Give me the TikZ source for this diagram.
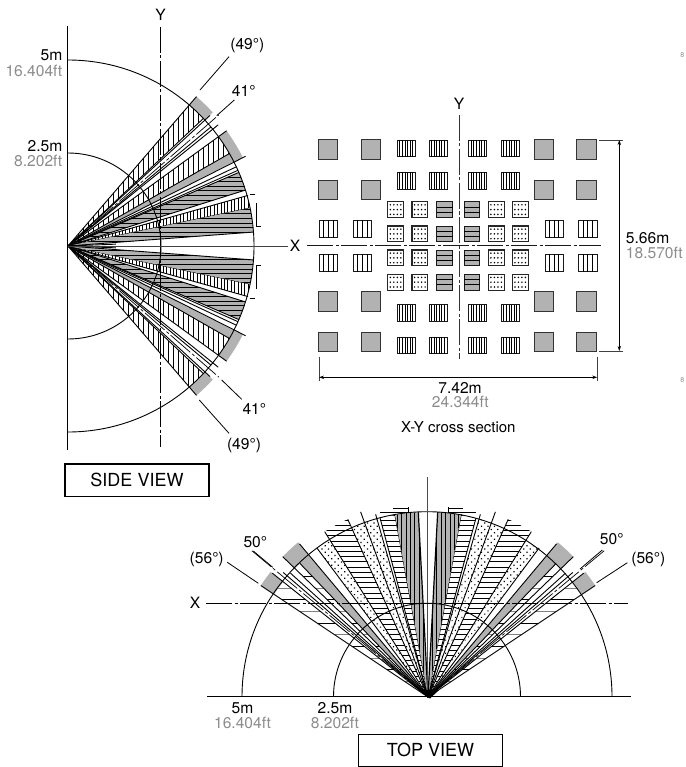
\documentclass[tikz,border=0pt]{standalone}
\usepackage{fontspec}
\setmainfont{TeX Gyre Heros}
\usetikzlibrary{arrows.meta,patterns.meta}
\definecolor{fill7}{gray}{0.70}
\definecolor{ftgray}{gray}{0.55}
\tikzset{
  lab/.style={inner sep=0pt,font=\fontsize{15.6}{17}\selectfont},
  ftlab/.style={lab,text=ftgray},
  titlebox/.style={draw,line width=1.1pt,inner sep=0pt,font=\fontsize{18}{20}\selectfont},
  axisline/.style={line width=0.9pt,dash pattern=on 26pt off 2.5pt on 3pt off 2.5pt},
  edge/.style={line width=0.9pt},
  leader/.style={line width=0.8pt},
  dimline/.style={line width=0.8pt,{Stealth[length=5pt,width=3.4pt]}-{Stealth[length=5pt,width=3.4pt]}},
  extline/.style={line width=0.8pt,black!75},
  graysq/.style={draw=black!80,fill=fill7,line width=1pt},
  hsq/.style={draw=black!90,line width=0.9pt},
  dotsq/.style={draw=black!85,line width=1.1pt,fill=white}
}
% sector path
\def\sect#1#2#3{(0,0) -- (#1:#3) arc[start angle=#1,end angle=#2,radius=#3] -- cycle}
\def\ring#1#2#3#4{(#1:#3) arc[start angle=#1,end angle=#2,radius=#3] -- (#2:#4) arc[start angle=#2,end angle=#1,radius=#4] -- cycle}
% hatch helpers: sector angles, radius, step
\newcommand\hatchV[5][black]{\begin{scope}\clip \sect{#2}{#3}{#4};
  \foreach \k in {0,#5,...,215} {\draw[#1,line width=0.9pt] (\k,-215)--(\k,215);\draw[#1,line width=0.9pt] (-\k,-215)--(-\k,215);}\end{scope}}
\newcommand\hatchH[5][black]{\begin{scope}\clip \sect{#2}{#3}{#4};
  \foreach \k in {0,#5,...,215} {\draw[#1,line width=0.9pt] (-215,\k)--(215,\k);\draw[#1,line width=0.9pt] (-215,-\k)--(215,-\k);}\end{scope}}
\newcommand\dotsect[3]{\fill[pattern={Dots[distance=4.6pt,angle=45,radius=0.85pt]},pattern color=black] \sect{#1}{#2}{#3};}
% upper half of the side-view fan
\newcommand\sidehalf{%
  % top wedge
  \hatchV{43.3}{49.3}{186}{5}
  \fill[fill7] \ring{42.7}{49.3}{186}{197};
  \draw[edge] (0,0) -- (49.3:197);
  \draw[edge] (0,0) -- (43.3:186);
  % white band
  \draw[edge] (0,0) -- (42.6:193);
  \draw[line width=0.7pt,dash pattern=on 26pt off 2.5pt on 3pt off 2.5pt] (0,0) -- (41:200);
  \draw[edge] (0,0) -- (39.8:186);
  \draw[edge] (0,0) -- (38.9:193);
  % second wedge
  \hatchV{29.8}{36}{186}{5}
  \fill[fill7] \sect{27}{29.8}{186};
  \fill[fill7] \ring{26.8}{36}{186}{196};
  \draw[edge] (0,0) -- (36:196);
  \draw[edge] (0,0) -- (29.8:186);
  \draw[edge] (0,0) -- (26.8:199);
  \draw[edge] (0,0) -- (25.2:186);
  \draw[edge] (0,0) -- (24:186);
  % dark horizontal wedge
  \fill[fill7] \sect{17.5}{23.3}{186};
  \hatchH{17.5}{23.3}{186}{4.6}
  \draw[edge] (0,0) -- (23.3:186);
  \draw[edge] (0,0) -- (17.5:186);
  % fine vertical wedge
  \hatchV{11.8}{15.7}{186}{3.4}
  \draw[edge] (0,0) -- (15.7:187);
  \draw[edge] (0,0) -- (11.8:186);
  % dark lower wedge
  \fill[fill7] \sect{4.3}{11.8}{186};
  \hatchH{4.3}{11.8}{186}{4.6}
  \draw[edge] (0,0) -- (4.3:186);
  \draw[edge] (0,0) -- (2.2:48);
  % marks at the wedge ends
  \draw[edge] (181.5,52) -- (187,52);
  \draw[edge] (188,43) -- (188,19.5) -- (192.7,19.5);
}
% left half of the top-view fan, apex at origin, polar angle = 90 + theta
\newcommand\tophalf{%
  % widest wedge with wide hatch
  \begin{scope}\clip \sect{141.5}{146.3}{185};
    \foreach \k/\c in {15.7/gray,27.3/black,39/gray,50.6/black,62.3/gray,73.9/black,85.6/gray,97.2/black,108.9/gray,120.5/black}{\draw[\c,line width=1pt] (-215,\k)--(0,\k);}
  \end{scope}
  \fill[fill7] \ring{141.5}{146.3}{185}{201};
  \draw[edge] (0,0) -- (146.3:201);
  \draw[edge] (0,0) -- (141.5:199);
  % lines between
  \draw[line width=0.7pt,dash pattern=on 26pt off 2.5pt on 3pt off 2.5pt] (0,0) -- (140.3:229);
  \draw[edge] (0,0) -- (139.3:191);
  \draw[edge] (0,0) -- (138:185);
  % second wedge
  \begin{scope}\clip \sect{133.8}{136}{185};
    \foreach \k/\c in {15.7/gray,27.3/black,39/gray,50.6/black,62.3/gray,73.9/black,85.6/gray,97.2/black,108.9/gray,120.5/black}{\draw[\c,line width=1pt] (-215,\k)--(0,\k);}
  \end{scope}
  \fill[fill7] \sect{130}{133.8}{185};
  \fill[fill7] \ring{130}{136}{185}{202};
  \draw[edge] (0,0) -- (136:202);
  \draw[edge] (0,0) -- (133.8:185);
  \draw[edge] (0,0) -- (130:200);
  % white band edge & dots
  \dotsect{122}{126.7}{185}
  \draw[edge] (0,0) -- (126.7:186);
  % horizontal hatch beyond the arc
  \hatchH{114.3}{122}{195}{5.2}
  \draw[edge] (0,0) -- (122:195);
  \draw[edge] (0,0) -- (114.3:195);
  % dotted wedge
  \dotsect{106}{114.3}{185}
  \draw[edge] (0,0) -- (110:197);
  \draw[edge] (0,0) -- (106:190);
  \draw[edge] (0,0) -- (105:185);
  % hatch wedge
  \hatchH{100.3}{105}{185}{5.2}
  \draw[edge] (0,0) -- (100.3:186);
  % extended marks
  \draw[edge] (-48,184.3) -- (-20,184.3) -- (-20,190);
  \draw[edge] (-35,188.7) -- (-20,188.7);
  % dark vertical wedge
  \fill[fill7] \sect{93}{100.3}{185};
  \hatchV{93}{100.3}{185}{4.4}
  \draw[line width=1.2pt] (0,0) -- (93:185);
}
\begin{document}
\begin{tikzpicture}[x=1pt,y=1pt]
\useasboundingbox (0,0) rectangle (685,-767);
% =============== SIDE VIEW ===============
\begin{scope}[shift={(68,-246)}]
  \sidehalf
\end{scope}
\begin{scope}[shift={(68,-246)},yscale=-1]
  \sidehalf
\end{scope}
\begin{scope}[shift={(68,-246)}]
  \draw[edge] (0,186) arc[start angle=90,end angle=-90,radius=186];
  \draw[edge] (0,93) arc[start angle=90,end angle=-90,radius=93];
\end{scope}
\coordinate (sideAxisT) at (67.5,-26);
\coordinate (sideAxisB) at (67.5,-450);
\draw[line width=1pt] (sideAxisT) -- (sideAxisB);
\coordinate (sideYT) at (160.5,-27);
\coordinate (sideYB) at (160.5,-447);
\draw[axisline] (sideYT) -- (sideYB);
\coordinate (sideApex) at (68,-246);
\coordinate (sideXE) at (288,-246);
\draw[line width=0.9pt,black!75] (sideApex) -- (sideXE);
\node[lab] (ySide) at (160.5,-15) {Y};
\node[lab] (xSide) at (295,-246) {X};
\node[lab,anchor=east] (m5) at (62.5,-55) {5m};
\node[ftlab,anchor=east] (ft5) at (62.5,-70.5) {16.404ft};
\node[lab,anchor=east] (m25) at (62.5,-146) {2.5m};
\node[ftlab,anchor=east] (ft25) at (62.5,-161) {8.202ft};
\node[lab] (a49t) at (247.3,-45) {(49°)};
\node[lab] (a41t) at (243.7,-90.5) {41°};
\node[lab] (a41b) at (254.3,-409) {41°};
\node[lab] (a49b) at (244,-445) {(49°)};
\coordinate (l49ta) at (200,-90); \coordinate (l49tb) at (229,-56.7);
\coordinate (l41ta) at (216.7,-115.7); \coordinate (l41tb) at (234.3,-100);
\coordinate (l41ba) at (221.7,-380); \coordinate (l41bb) at (241.7,-399.3);
\coordinate (l49ba) at (199.3,-400); \coordinate (l49bb) at (229,-433.3);
\draw[leader] (l49ta) -- (l49tb);
\draw[leader] (l41ta) -- (l41tb);
\draw[leader] (l41ba) -- (l41bb);
\draw[leader] (l49ba) -- (l49bb);
\node[titlebox,minimum width=144pt,minimum height=32.7pt] (sideBox) at (137,-480.3) {SIDE VIEW};
% =============== CROSS SECTION ===============
\foreach \x in {318.5,361,534.3,576.7}{\foreach \y in {140,180.3,291.7,332.3}{
  \draw[graysq] (\x,-\y) rectangle ++(19.4,-19.4);}}
\foreach \x in {397.3,429,468.7,501.3}{\foreach \y in {140,172.5,304.5,337}{
  \draw[hsq] (\x,-\y) rectangle ++(18,-16.6);
  \foreach \k in {1,...,6}{\draw[line width=0.8pt] (\x+\k*18/7,-\y) -- ++(0,-16.6);}}}
\foreach \x in {319.3,353.3,545,578.7}{\foreach \y in {220,254}{
  \draw[hsq] (\x,-\y) rectangle ++(18.3,-17.5);
  \foreach \k in {1,2,3}{\draw[line width=0.8pt] (\x+\k*4.575,-\y) -- ++(0,-17.5);}}}
\foreach \x in {387.7,412,488.3,512.3}{\foreach \y in {201.7,226,250,274.3}{
  \draw[dotsq] (\x,-\y) rectangle ++(15.8,-15.8);
  \foreach \i in {0,...,3}{\foreach \j in {0,1,2}{\fill (\x+2.6+\i*3.5,-\y-3.1-\j*4.8) circle[radius=0.85];}}}}
\foreach \x in {436.7,464}{\foreach \y in {201.7,226,250,274.3}{
  \draw[hsq,fill=fill7] (\x,-\y) rectangle ++(15.8,-15.8);
  \foreach \k in {1,2}{\draw[line width=0.9pt] (\x,-\y-\k*5.27) -- ++(15.8,0);}}}
\coordinate (csYT) at (459,-115); \coordinate (csYB) at (459,-359);
\coordinate (csXL) at (307.3,-245.7); \coordinate (csXR) at (600.7,-245.7);
\draw[axisline,black!80] (csYT) -- (csYB);
\draw[axisline,black!90] (csXL) -- (csXR);
\node[lab] (yCs) at (459,-104) {Y};
\coordinate (dvT) at (619.3,-140); \coordinate (dvB) at (619.3,-351);
\coordinate (dvTl) at (599.3,-140); \coordinate (dvTr) at (623.3,-140);
\coordinate (dvBl) at (599.3,-351); \coordinate (dvBr) at (623.3,-351);
\draw[extline] (dvTl) -- (dvTr);
\draw[extline] (dvBl) -- (dvBr);
\draw[dimline] (dvT) -- (dvB);
\coordinate (dhL) at (319,-377.3); \coordinate (dhR) at (597.3,-377.3);
\coordinate (dhLt) at (319,-356.7); \coordinate (dhLb) at (319,-380.7);
\coordinate (dhRt) at (597.3,-356.7); \coordinate (dhRb) at (597.3,-380.7);
\draw[extline] (dhLt) -- (dhLb);
\draw[extline] (dhRt) -- (dhRb);
\draw[dimline] (dhL) -- (dhR);
\node[lab,anchor=west] (d566) at (625.7,-238.3) {5.66m};
\node[ftlab,anchor=west] (d566ft) at (625.7,-253.3) {18.570ft};
\node[lab] (d742) at (460,-387.7) {7.42m};
\node[ftlab] (d742ft) at (460.3,-402.3) {24.344ft};
\node[lab,font=\fontsize{15}{17}\selectfont] (csTitle) at (458.3,-426.7) {X-Y cross section};
% =============== TOP VIEW ===============
\begin{scope}[shift={(428,-697)}]
  \tophalf
\end{scope}
\begin{scope}[shift={(428,-697)},xscale=-1]
  \tophalf
\end{scope}
\begin{scope}[shift={(427,-696.7)}]
  \draw[edge] (-185,0) arc[start angle=180,end angle=0,radius=185];
  \draw[edge] (-93.5,0) arc[start angle=180,end angle=0,radius=93.5];
\end{scope}
\coordinate (topYT) at (427,-477); \coordinate (topYB) at (427,-696);
\draw[line width=1pt,black!70] (topYT) -- (topYB);
\coordinate (topXL) at (206,-603.3); \coordinate (topXR) at (628.3,-603.3);
\draw[axisline] (topXL) -- (topXR);
\coordinate (baseL) at (207,-696.7); \coordinate (baseR) at (630.7,-696.7);
\draw[line width=1pt] (baseL) -- (baseR);
\fill (420,-690) -- (439,-690) -- (430,-698.5) -- cycle;
\node[lab] (xTop) at (195,-603) {X};
\node[lab] (a50l) at (255.3,-541.7) {50°};
\node[lab] (a56l) at (206.7,-559.3) {(56°)};
\node[lab] (a50r) at (611.7,-539.3) {50°};
\node[lab] (a56r) at (648.3,-559.3) {(56°)};
\coordinate (l50la) at (253.3,-551); \coordinate (l50lb) at (272.7,-567.3);
\coordinate (l56la) at (227.3,-562.3); \coordinate (l56lb) at (258.3,-583.3);
\coordinate (l56ra) at (627.3,-562.7); \coordinate (l56rb) at (596.7,-582.7);
\coordinate (l50ra) at (602.3,-550); \coordinate (l50rb) at (580,-569);
\draw[leader] (l50la) -- (l50lb);
\draw[leader] (l56la) -- (l56lb);
\draw[leader] (l56ra) -- (l56rb);
\draw[leader] (l50ra) -- (l50rb);
\node[lab] (m5t) at (242.5,-708) {5m};
\node[ftlab] (ft5t) at (242.5,-722.5) {16.404ft};
\node[lab] (m25t) at (335,-708) {2.5m};
\node[ftlab] (ft25t) at (335,-722.5) {8.202ft};
\node[titlebox,minimum width=144.4pt,minimum height=32.2pt] (topBox) at (430.5,-750.4) {TOP VIEW};
% small grey marks at the right edge of the sheet
\node[inner sep=0pt,anchor=east,text=ftgray,font=\fontsize{7}{8}\selectfont] (edgeA) at (684.5,-55) {8};
\node[inner sep=0pt,anchor=east,text=ftgray,font=\fontsize{7}{8}\selectfont] (edgeB) at (684.5,-380) {8};
\end{tikzpicture}
\end{document}
